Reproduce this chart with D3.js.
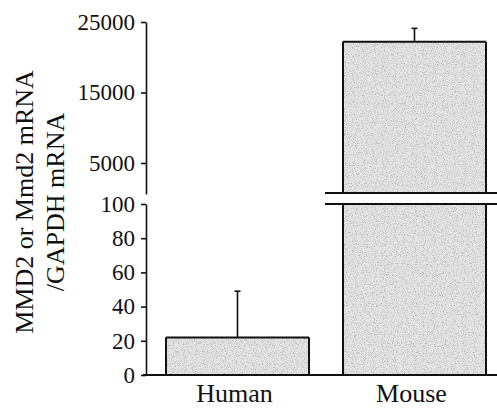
<!DOCTYPE html>
<html>
<head>
<meta charset="utf-8">
<script src="https://cdn.jsdelivr.net/npm/d3@7/dist/d3.min.js"></script>
<style>
  html, body { margin: 0; padding: 0; background: #fff; }
  svg { display: block; }
  text { font-family: "Liberation Serif", "Times New Roman", serif; fill: #111; }
</style>
</head>
<body>
<div id="chart"></div>
<script>
// Relative expression, broken y-axis (low segment 0–100, high segment up to 25000)
const categories = ["Human", "Mouse"];
const means = [22, 22200];
const errorsUp = [27, 1900];
const lowTicks = [0, 20, 40, 60, 80, 100];
const highTicks = [5000, 15000, 25000];
const lowDomain = [0, 100];
const highDomain = [600, 25000];
const titleLines = ["MMD2 or Mmd2 mRNA", "/GAPDH mRNA"];

const W = 497, H = 409;
const axisX = 146;

const svg = d3.select("#chart").append("svg")
  .attr("width", W).attr("height", H);

// stippled grey fill
const defs = svg.append("defs");
const f = defs.append("filter").attr("id", "grain")
  .attr("x", 0).attr("y", 0).attr("width", 1).attr("height", 1);
f.append("feTurbulence").attr("type", "fractalNoise")
  .attr("baseFrequency", 0.9).attr("numOctaves", 2).attr("seed", 4).attr("result", "n");
f.append("feColorMatrix").attr("in", "n").attr("type", "matrix")
  .attr("values", "0 0 0 0 0.45  0 0 0 0 0.45  0 0 0 0 0.45  3.2 0 0 0 -1.55")
  .attr("result", "dots");
f.append("feComposite").attr("in", "dots").attr("in2", "SourceGraphic")
  .attr("operator", "in").attr("result", "clipped");
const m = f.append("feMerge");
m.append("feMergeNode").attr("in", "SourceGraphic");
m.append("feMergeNode").attr("in", "clipped");

const x = d3.scaleBand().domain(categories)
  .range([axisX, W]).paddingInner(0.192).paddingOuter(0.0875).align(0.645);
const yLow = d3.scaleLinear().domain(lowDomain).range([375, 204]);
const yHigh = d3.scaleLinear().domain(highDomain).range([194, 22]);

// value -> pixel on whichever segment holds it
const yOf = v => v <= lowDomain[1] ? yLow(v) : yHigh(v);

const data = categories.map((c, i) => ({ c, v: means[i], e: errorsUp[i] }));

const barG = svg.append("g");
data.forEach(d => {
  const x0 = x(d.c), bw = x.bandwidth();
  const segs = d.v <= lowDomain[1]
    ? [[yLow(d.v), yLow(0)]]
    : [[yHigh(d.v), yHigh(highDomain[0])], [yLow(lowDomain[1]), yLow(0)]];
  segs.forEach(([t, b]) => {
    barG.append("rect").attr("x", x0).attr("y", t)
      .attr("width", bw).attr("height", b - t)
      .attr("fill", "#e4e4e4").attr("filter", "url(#grain)");
    barG.append("line").attr("x1", x0).attr("x2", x0).attr("y1", t).attr("y2", b)
      .attr("stroke", "#111").attr("stroke-width", 2);
    barG.append("line").attr("x1", x0 + bw).attr("x2", x0 + bw).attr("y1", t).attr("y2", b)
      .attr("stroke", "#111").attr("stroke-width", 2);
  });
  const top = yOf(d.v);
  barG.append("line").attr("x1", x0).attr("x2", x0 + bw).attr("y1", top).attr("y2", top)
    .attr("stroke", "#111").attr("stroke-width", 2);
  // error bar (upper only)
  const cx = x0 + bw / 2, et = yOf(d.v + d.e);
  barG.append("line").attr("x1", cx).attr("x2", cx).attr("y1", top).attr("y2", et)
    .attr("stroke", "#111").attr("stroke-width", 1.6);
  barG.append("line").attr("x1", cx - 3).attr("x2", cx + 3).attr("y1", et).attr("y2", et)
    .attr("stroke", "#111").attr("stroke-width", 1.6);
});

// break marks across the tall bar
const bx0 = x("Mouse") - 18;
[yHigh(highDomain[0]) - 1, yLow(lowDomain[1])].forEach(y => {
  svg.append("line").attr("x1", bx0).attr("x2", W).attr("y1", y).attr("y2", y)
    .attr("stroke", "#111").attr("stroke-width", 2);
});

// axes
function styleAxis(g) {
  g.selectAll("path.domain").attr("stroke", "#111").attr("stroke-width", 1.6);
  g.selectAll(".tick line").attr("stroke", "#111").attr("stroke-width", 1.6);
  g.selectAll(".tick text").attr("font-size", 23)
    .attr("font-family", "Liberation Serif, serif").attr("fill", "#111");
}
svg.append("g").attr("transform", `translate(${axisX},0)`)
  .call(d3.axisLeft(yHigh).tickValues(highTicks).tickFormat(d3.format("d"))
    .tickSize(5).tickSizeOuter(0).tickPadding(6))
  .call(styleAxis);
svg.append("g").attr("transform", `translate(${axisX},0)`)
  .call(d3.axisLeft(yLow).tickValues(lowTicks).tickFormat(d3.format("d"))
    .tickSize(5).tickSizeOuter(0).tickPadding(6))
  .call(styleAxis);

// baseline
svg.append("line").attr("x1", axisX - 3).attr("x2", W)
  .attr("y1", yLow(0)).attr("y2", yLow(0))
  .attr("stroke", "#111").attr("stroke-width", 2);

// category labels
svg.append("g").selectAll("text").data(categories).join("text")
  .attr("x", d => x(d) + x.bandwidth() / 2 - 3)
  .attr("y", 402)
  .attr("text-anchor", "middle")
  .attr("font-size", 26)
  .text(d => d);

// y title
const tg = svg.append("g").attr("transform", "translate(0,202) rotate(-90)");
tg.selectAll("text").data(titleLines).join("text")
  .attr("x", 0)
  .attr("y", (d, i) => 33 + i * 31)
  .attr("text-anchor", "middle")
  .attr("font-size", 26)
  .text(d => d);
</script>
</body>
</html>
